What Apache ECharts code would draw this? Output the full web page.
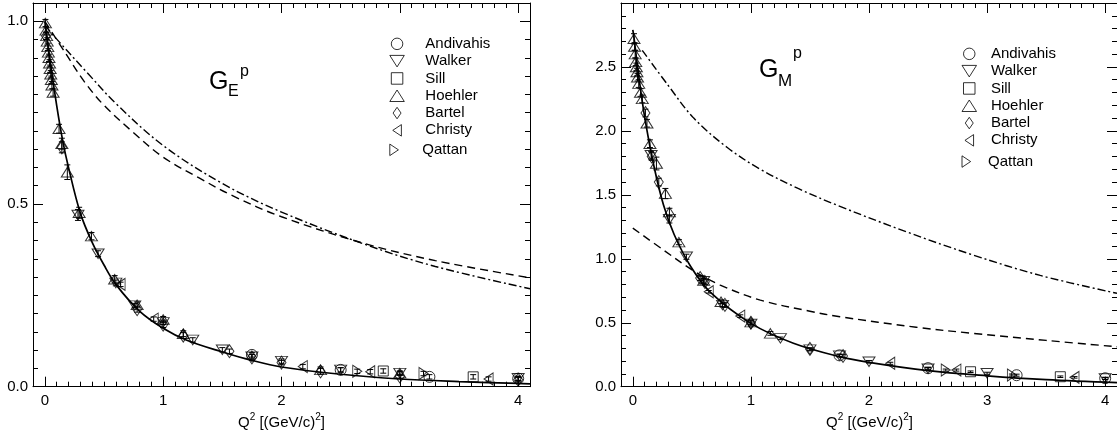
<!DOCTYPE html>
<html><head><meta charset="utf-8">
<script src="https://cdn.jsdelivr.net/npm/echarts@6/dist/echarts.min.js"></script>
<style>html,body{margin:0;padding:0;background:#fff}#c{width:1117px;height:438px}</style>
</head><body><div id="c"></div>
<script>
// ---------- DATA ----------
const datasetNames = ['Andivahis','Walker','Sill','Hoehler','Bartel','Christy','Qattan'];
const xMajorTicks = [0, 1, 2, 3, 4];
const yMajorTicksGE = [0, 0.5, 1.0];
const yMajorTicksGM = [0, 0.5, 1.0, 1.5, 2.0, 2.5];

// G_E^p points [Q2, value, error]
const geAndivahis = [[1.75,0.087,0.006],[2.5,0.046,0.006],[3.25,0.027,0.006],[4.0,0.022,0.006]];
const geWalker = [[0.28,0.47,0.015],[0.45,0.364,0.008],[0.6,0.284,0.008],[0.76,0.222,0.006],[1.0,0.176,0.006],[1.25,0.128,0.006],[1.5,0.101,0.006],[1.75,0.082,0.006],[2.0,0.070,0.006],[2.5,0.046,0.006],[3.0,0.037,0.006],[4.0,0.023,0.006]];
const geSill = [[2.86,0.043,0.006],[3.62,0.027,0.006]];
const geHoehler = [[0.005,0.995,0.01],[0.01,0.975,0.01],[0.015,0.96,0.01],[0.02,0.945,0.01],[0.025,0.93,0.01],[0.03,0.915,0.01],[0.035,0.9,0.01],[0.04,0.885,0.01],[0.045,0.87,0.01],[0.05,0.855,0.01],[0.055,0.84,0.01],[0.06,0.825,0.01],[0.07,0.805,0.01],[0.12,0.706,0.012],[0.144,0.665,0.015],[0.19,0.587,0.02],[0.29,0.476,0.015],[0.394,0.412,0.01],[0.59,0.294,0.01],[0.78,0.224,0.008],[1.0,0.184,0.008],[1.17,0.145,0.008],[2.33,0.046,0.008],[3.0,0.037,0.005]];
const geBartel = [[0.01,0.96,0.01],[0.144,0.655,0.015],[0.78,0.212,0.008],[1.0,0.17,0.008],[1.17,0.14,0.008],[1.56,0.097,0.006],[1.75,0.08,0.008],[2.0,0.066,0.006],[2.33,0.042,0.008],[3.0,0.028,0.006],[4.0,0.019,0.006]];
const geChristy = [[0.64,0.28,0.006],[0.92,0.185,0.006],[2.18,0.055,0.006],[2.75,0.041,0.006],[3.75,0.021,0.006]];
const geQattan = [[2.64,0.042,0.006],[3.2,0.036,0.006]];

// G_M^p points [Q2, value, error]
const gmAndivahis = [[1.75,0.245,0.01],[2.5,0.145,0.008],[3.25,0.09,0.008],[4.0,0.066,0.008]];
const gmWalker = [[0.155,1.81,0.03],[0.31,1.31,0.03],[0.454,1.016,0.02],[0.6,0.825,0.02],[0.76,0.638,0.015],[1.0,0.49,0.015],[1.25,0.378,0.01],[1.5,0.29,0.01],[1.75,0.243,0.01],[2.0,0.195,0.01],[2.5,0.14,0.01],[3.0,0.105,0.008],[4.0,0.064,0.008]];
const gmSill = [[2.86,0.117,0.006],[3.62,0.078,0.006]];
const gmHoehler = [[0.01,2.72,0.04],[0.015,2.66,0.03],[0.02,2.6,0.03],[0.025,2.54,0.03],[0.03,2.5,0.03],[0.035,2.46,0.03],[0.04,2.42,0.03],[0.05,2.37,0.03],[0.065,2.3,0.03],[0.08,2.25,0.03],[0.12,2.06,0.03],[0.145,1.9,0.03],[0.2,1.745,0.05],[0.276,1.51,0.04],[0.31,1.365,0.03],[0.39,1.13,0.02],[0.6,0.83,0.02],[0.747,0.664,0.015],[1.0,0.505,0.015],[1.165,0.417,0.015]];
const gmBartel = [[0.107,2.14,0.03],[0.16,1.8,0.03],[0.22,1.6,0.03],[0.57,0.85,0.02],[0.61,0.82,0.02],[0.78,0.64,0.02],[1.0,0.5,0.015],[1.5,0.295,0.01],[1.78,0.24,0.01]];
const gmChristy = [[0.643,0.742,0.01],[0.91,0.552,0.01],[2.18,0.183,0.008],[2.74,0.13,0.008],[3.74,0.073,0.006]];
const gmQattan = [[2.65,0.13,0.008],[3.21,0.091,0.008]];

// curves [Q2, value]
const geFit = [[0,1.0],[0.05,0.88],[0.1,0.77],[0.15,0.675],[0.2,0.6],[0.3,0.475],[0.4,0.395],[0.5,0.333],[0.6,0.28],[0.8,0.207],[1.0,0.16],[1.2,0.127],[1.5,0.095],[1.75,0.072],[2.0,0.054],[2.5,0.034],[3.0,0.021],[3.5,0.014],[4.0,0.009],[4.1,0.008]];
const geDashed = [[0,1.0],[0.18,0.91],[0.34,0.832],[0.5,0.77],[0.75,0.695],[1.0,0.628],[1.3,0.572],[1.59,0.522],[2.0,0.465],[2.7,0.392],[3.3,0.345],[4.1,0.298]];
const geDashDot = [[0,0.99],[0.06,0.966],[0.37,0.855],[0.6,0.775],[1.0,0.66],[1.5,0.556],[2.0,0.478],[2.7,0.39],[3.3,0.329],[4.1,0.268]];
const gmFit = [[0,2.79],[0.01,2.73],[0.05,2.43],[0.107,2.07],[0.18,1.72],[0.26,1.42],[0.35,1.19],[0.49,0.94],[0.66,0.735],[1.0,0.495],[1.36,0.34],[1.75,0.235],[2.0,0.19],[2.5,0.125],[3.0,0.085],[3.5,0.055],[4.1,0.032]];
const gmDashed = [[0,1.24],[0.25,1.075],[0.516,0.905],[0.74,0.795],[1.08,0.677],[1.5,0.59],[1.754,0.547],[2.4,0.465],[2.88,0.417],[3.5,0.362],[4.1,0.312]];
const gmDashDot = [[0.08,2.63],[0.3,2.355],[0.516,2.1],[0.8,1.87],[1.08,1.70],[1.4,1.55],[1.754,1.41],[2.32,1.21],[2.88,1.03],[3.45,0.87],[4.1,0.73]];

// ---------- CHART ----------
const FONT = "'Liberation Sans', Arial, Helvetica, sans-serif";
const BLACK = '#000';
const SYMBOLS = {
  Andivahis: {symbol:'circle', size:11},
  Walker: {symbol:'path://M0,0L12,0L6,9.5Z', size:[12,9.5]},
  Sill: {symbol:'path://M0,0L10,0L10,10L0,10Z', size:[10,10]},
  Hoehler: {symbol:'path://M6,0L12,9.5L0,9.5Z', size:[12,9.5]},
  Bartel: {symbol:'path://M4.5,0L9,6.5L4.5,13L0,6.5Z', size:[9,13]},
  Christy: {symbol:'path://M0,6L9,0L9,12Z', size:[9,12]},
  Qattan: {symbol:'path://M0,0L9,6L0,12Z', size:[9,12]}
};
const geSets = {Andivahis:geAndivahis, Walker:geWalker, Sill:geSill, Hoehler:geHoehler, Bartel:geBartel, Christy:geChristy, Qattan:geQattan};
const gmSets = {Andivahis:gmAndivahis, Walker:gmWalker, Sill:gmSill, Hoehler:gmHoehler, Bartel:gmBartel, Christy:gmChristy, Qattan:gmQattan};

const tickLine = {color: BLACK, width: 1};
function xAxes(gi) {
  const base = {gridIndex: gi, type: 'value', min: -0.1, max: 4.1, splitLine: {show: false},
    axisLine: {show: false, onZero: false}, axisLabel: {show: false}, axisTick: {show: false}};
  return [
    Object.assign({}, base, {position: 'bottom',
      axisLine: {show: true, onZero: false, lineStyle: tickLine},
      axisTick: {show: true, inside: true, length: 10, customValues: xMajorTicks, lineStyle: tickLine},
      axisLabel: {show: true, customValues: xMajorTicks, margin: 7, color: BLACK, fontSize: 15, fontFamily: FONT,
        formatter: v => String(Math.round(v))}}),
    Object.assign({}, base, {position: 'bottom', interval: 0.1,
      axisTick: {show: true, inside: true, length: 5, lineStyle: tickLine}}),
    Object.assign({}, base, {position: 'top',
      axisLine: {show: true, onZero: false, lineStyle: tickLine},
      axisTick: {show: true, inside: true, length: 10, customValues: xMajorTicks, lineStyle: tickLine}}),
    Object.assign({}, base, {position: 'top', interval: 0.1,
      axisTick: {show: true, inside: true, length: 5, lineStyle: tickLine}})
  ];
}
function yAxes(gi, max, majors, minorInt) {
  const base = {gridIndex: gi, type: 'value', min: 0, max: max, splitLine: {show: false},
    axisLine: {show: false, onZero: false}, axisLabel: {show: false}, axisTick: {show: false}};
  return [
    Object.assign({}, base, {position: 'left',
      axisLine: {show: true, onZero: false, lineStyle: tickLine},
      axisTick: {show: true, inside: true, length: 10, customValues: majors, lineStyle: tickLine},
      axisLabel: {show: true, customValues: majors, margin: 5, color: BLACK, fontSize: 15, fontFamily: FONT,
        formatter: v => v.toFixed(1)}}),
    Object.assign({}, base, {position: 'left', interval: minorInt,
      axisTick: {show: true, inside: true, length: 5, lineStyle: tickLine}}),
    Object.assign({}, base, {position: 'right',
      axisLine: {show: true, onZero: false, lineStyle: tickLine},
      axisTick: {show: true, inside: true, length: 10, customValues: majors, lineStyle: tickLine}}),
    Object.assign({}, base, {position: 'right', interval: minorInt,
      axisTick: {show: true, inside: true, length: 5, lineStyle: tickLine}})
  ];
}

function scatterSeries(sets, xi, yi) {
  return datasetNames.map(n => ({
    type: 'scatter', name: n, xAxisIndex: xi, yAxisIndex: yi,
    data: sets[n].map(p => [p[0], p[1]]),
    symbol: SYMBOLS[n].symbol, symbolSize: SYMBOLS[n].size,
    itemStyle: {color: 'rgba(0,0,0,0)', borderColor: BLACK, borderWidth: 1},
    emphasis: {disabled: true}, z: 4
  }));
}
function errorSeries(sets, xi, yi) {
  const data = [];
  datasetNames.forEach(n => sets[n].forEach(p => { if (p[2]) data.push([p[0], p[1] - p[2], p[1] + p[2]]); }));
  return {
    type: 'custom', xAxisIndex: xi, yAxisIndex: yi, data: data, silent: true, z: 3,
    encode: {x: 0, y: [1, 2]},
    renderItem: function (params, api) {
      const x = api.value(0);
      const lo = api.coord([x, api.value(1)]);
      const hi = api.coord([x, api.value(2)]);
      const c = 3;
      const st = {stroke: BLACK, lineWidth: 1};
      return {type: 'group', children: [
        {type: 'line', shape: {x1: lo[0], y1: lo[1], x2: hi[0], y2: hi[1]}, style: st},
        {type: 'line', shape: {x1: lo[0] - c, y1: lo[1], x2: lo[0] + c, y2: lo[1]}, style: st},
        {type: 'line', shape: {x1: hi[0] - c, y1: hi[1], x2: hi[0] + c, y2: hi[1]}, style: st}
      ]};
    }
  };
}
function curve(data, xi, yi, type, width) {
  return {type: 'line', xAxisIndex: xi, yAxisIndex: yi, data: data, showSymbol: false, symbol: 'none',
    smooth: 0.35, silent: true, z: 2,
    lineStyle: {color: BLACK, width: width, type: type}};
}

function legendPair(left, top1, top2, w) {
  const common = {orient: 'vertical', left: left, itemWidth: w, itemHeight: 11.5, itemGap: 0, padding: 0,
    selectedMode: false,
    textStyle: {fontSize: 15, fontFamily: FONT, color: BLACK, lineHeight: 17.3},
    itemStyle: {color: 'rgba(0,0,0,0)', borderColor: BLACK, borderWidth: 1}};
  return [
    Object.assign({}, common, {top: top1, data: datasetNames.slice(0, 6)}),
    Object.assign({}, common, {top: top2, data: ['Qattan']})
  ];
}

function txt(x, y, s, size) {
  return {type: 'text', x: x, y: y, silent: true,
    style: {text: s, fill: BLACK, font: size + 'px ' + FONT, align: 'left', verticalAlign: 'middle'}};
}
function axisTitle(x, y) {
  return {type: 'text', x: x, y: y, silent: true,
    style: {text: '{a|Q}{b|2}{a| [(GeV/c)}{b|2}{a|]}', align: 'center', verticalAlign: 'middle',
      rich: {a: {fontSize: 15, fontFamily: FONT, fill: BLACK, verticalAlign: 'bottom', padding: [3, 0, 0, 0]},
             b: {fontSize: 10, fontFamily: FONT, fill: BLACK, verticalAlign: 'top'}}}};
}

const option = {
  animation: false,
  backgroundColor: '#fff',
  grid: [
    {left: 33, top: 3, width: 497, height: 383.7},
    {left: 621, top: 3, width: 497, height: 383.7}
  ],
  xAxis: xAxes(0).concat(xAxes(1)),
  yAxis: yAxes(0, 1.05, yMajorTicksGE, 0.05).concat(yAxes(1, 3.0, yMajorTicksGM, 0.1)),
  legend: legendPair(389.3, 35.2, 141.2, 46.5).concat(legendPair(961.5, 45.2, 152.9, 33.3)),
  series: [].concat(
    [curve(geFit, 0, 0, 'solid', 1.7), curve(geDashed, 0, 0, [8, 5], 1.4), curve(geDashDot, 0, 0, [8, 3, 2, 3], 1.4)],
    [curve(gmFit, 4, 4, 'solid', 1.7), curve(gmDashed, 4, 4, [8, 5], 1.4), curve(gmDashDot, 4, 4, [8, 3, 2, 3], 1.4)],
    [errorSeries(geSets, 0, 0), errorSeries(gmSets, 4, 4)],
    scatterSeries(geSets, 0, 0),
    scatterSeries(gmSets, 4, 4)
  ),
  graphic: [
    txt(209, 82, 'G', 25), txt(228, 92, 'E', 16), txt(240, 72, 'p', 16),
    txt(759, 70, 'G', 25), txt(778, 81, 'M', 17), txt(793, 54, 'p', 16),
    axisTitle(281.5, 421.7), axisTitle(869.5, 421.7)
  ]
};
const chart = echarts.init(document.getElementById('c'), null, {renderer: 'canvas'});
chart.setOption(option);
</script>
</body></html>
